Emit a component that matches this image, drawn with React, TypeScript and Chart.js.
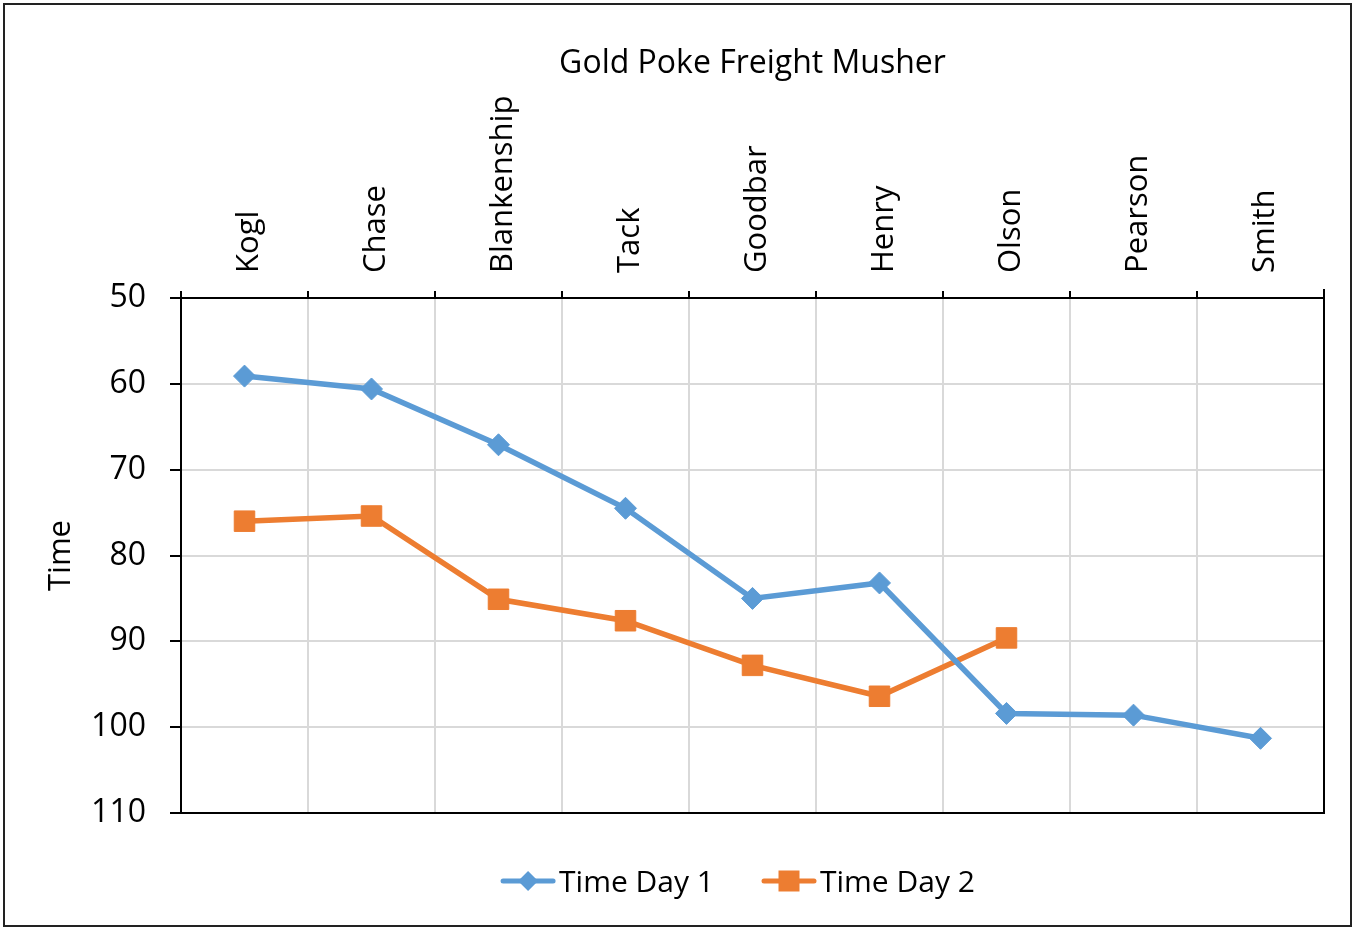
import { useEffect, useRef } from 'react';
import { Chart, registerables } from 'chart.js';

Chart.register(...registerables);

const categories = ['Kogl', 'Chase', 'Blankenship', 'Tack', 'Goodbar', 'Henry', 'Olson', 'Pearson', 'Smith'];
const timeDay1 = [59.1, 60.6, 67.1, 74.5, 85.0, 83.2, 98.4, 98.6, 101.3];
const timeDay2 = [76.0, 75.4, 85.1, 87.6, 92.8, 96.4, 89.6, null, null];
const seriesNames = ['Time Day 1', 'Time Day 2'];
const seriesColors = ['#5B9BD5', '#ED7D31'];
const chartTitle = 'Gold Poke Freight Musher';
const yAxisTitle = 'Time';
const yMin = 50;
const yMax = 110;
const yStep = 10;

const FONT = "'Open Sans', 'Noto Sans', sans-serif";
const W = 1355;
const H = 930;

const decorPlugin = {
  id: 'decor',
  afterDraw(chart: any) {
    const ctx = chart.ctx as CanvasRenderingContext2D;
    const a = chart.chartArea;
    const xs = chart.scales.x;
    ctx.save();
    // plot frame (right + bottom)
    ctx.strokeStyle = '#000';
    ctx.lineWidth = 2;
    ctx.beginPath();
    ctx.moveTo(a.right, a.top - 9);
    ctx.lineTo(a.right, a.bottom);
    ctx.lineTo(a.left - 11, a.bottom);
    ctx.stroke();
    // outer border
    ctx.strokeStyle = '#222';
    ctx.lineWidth = 2;
    ctx.strokeRect(4, 4, W - 8, H - 8);
    // category labels (rotated, above the plot)
    ctx.fillStyle = '#000';
    ctx.font = `31px ${FONT}`;
    (chart.data.labels as string[]).forEach((lab, i) => {
      const px = xs.getPixelForValue(i);
      ctx.save();
      ctx.translate(px + 13, a.top - 25);
      ctx.rotate(-Math.PI / 2);
      ctx.textAlign = 'left';
      ctx.textBaseline = 'alphabetic';
      ctx.fillText(lab, 0, 0);
      ctx.restore();
    });
    // title
    ctx.font = `32px ${FONT}`;
    ctx.textAlign = 'center';
    ctx.textBaseline = 'alphabetic';
    ctx.fillText(chartTitle, (a.left + a.right) / 2, 73);
    // legend
    ctx.font = `30px ${FONT}`;
    const lineLen = 54;
    const gapText = 4;
    const gapItem = 48;
    const widths = seriesNames.map((n) => lineLen + gapText + ctx.measureText(n).width);
    const total = widths.reduce((s, w) => s + w, 0) + gapItem * (seriesNames.length - 1);
    let x = 738 - total / 2;
    const ly = 881;
    seriesNames.forEach((name, i) => {
      const c = seriesColors[i];
      ctx.strokeStyle = c;
      ctx.fillStyle = c;
      ctx.lineWidth = 5;
      ctx.lineCap = 'round';
      ctx.beginPath();
      ctx.moveTo(x + 2, ly);
      ctx.lineTo(x + lineLen - 2, ly);
      ctx.stroke();
      const cx = x + lineLen / 2;
      ctx.beginPath();
      if (i === 0) {
        ctx.moveTo(cx, ly - 10);
        ctx.lineTo(cx + 10, ly);
        ctx.lineTo(cx, ly + 10);
        ctx.lineTo(cx - 10, ly);
        ctx.closePath();
      } else {
        ctx.rect(cx - 10.5, ly - 10.5, 21, 21);
      }
      ctx.fill();
      ctx.fillStyle = '#000';
      ctx.textAlign = 'left';
      ctx.textBaseline = 'alphabetic';
      ctx.fillText(name, x + lineLen + gapText, 892);
      x += widths[i] + gapItem;
    });
    ctx.restore();
  },
};

export default function App() {
  const ref = useRef<HTMLCanvasElement | null>(null);

  useEffect(() => {
    if (!ref.current) return;
    const chart = new Chart(ref.current, {
      type: 'line',
      data: {
        labels: categories,
        datasets: [
          {
            label: seriesNames[0],
            data: timeDay1,
            borderColor: seriesColors[0],
            backgroundColor: seriesColors[0],
            borderWidth: 5.5,
            pointStyle: 'rectRot',
            pointRadius: 11,
            pointBorderWidth: 1,
            pointHoverRadius: 11,
            tension: 0,
          },
          {
            label: seriesNames[1],
            data: timeDay2,
            borderColor: seriesColors[1],
            backgroundColor: seriesColors[1],
            borderWidth: 5.5,
            pointStyle: 'rect',
            pointRadius: 14.5,
            pointBorderWidth: 1,
            pointHoverRadius: 14.5,
            tension: 0,
            spanGaps: false,
          },
        ],
      },
      options: {
        responsive: false,
        animation: false,
        layout: { padding: { left: 0, top: 0, right: W - 1324, bottom: H - 813 } },
        plugins: {
          legend: { display: false },
          title: { display: false },
          tooltip: { enabled: false },
        },
        scales: {
          x: {
            type: 'category',
            position: 'top',
            offset: true,
            afterFit: (s: any) => {
              s.height = 298;
            },
            grid: {
              offset: true,
              color: '#d9d9d9',
              lineWidth: 2,
              tickColor: '#000',
              tickLength: 7,
              tickWidth: 2,
            },
            border: { color: '#000', width: 2 },
            ticks: {
              display: false,
              autoSkip: false,
            },
          },
          y: {
            type: 'linear',
            reverse: true,
            min: yMin,
            max: yMax,
            afterFit: (s: any) => {
              s.width = 181;
            },
            grid: {
              color: '#d9d9d9',
              lineWidth: 2,
              tickColor: '#000',
              tickLength: 11,
              tickWidth: 2,
            },
            border: { color: '#000', width: 2 },
            ticks: {
              stepSize: yStep,
              color: '#000',
              font: { family: FONT, size: 32 },
              padding: 24,
            },
            title: {
              display: true,
              text: yAxisTitle,
              color: '#000',
              font: { family: FONT, size: 31 },
              padding: { top: 43, bottom: 0 },
            },
          },
        },
      },
      plugins: [decorPlugin],
    });
    return () => chart.destroy();
  }, []);

  return (
    <div style={{ position: 'fixed', left: 0, top: 0, width: W, height: H, background: '#fff' }}>
      <canvas ref={ref} width={W} height={H} style={{ display: 'block', width: W, height: H }} />
    </div>
  );
}
